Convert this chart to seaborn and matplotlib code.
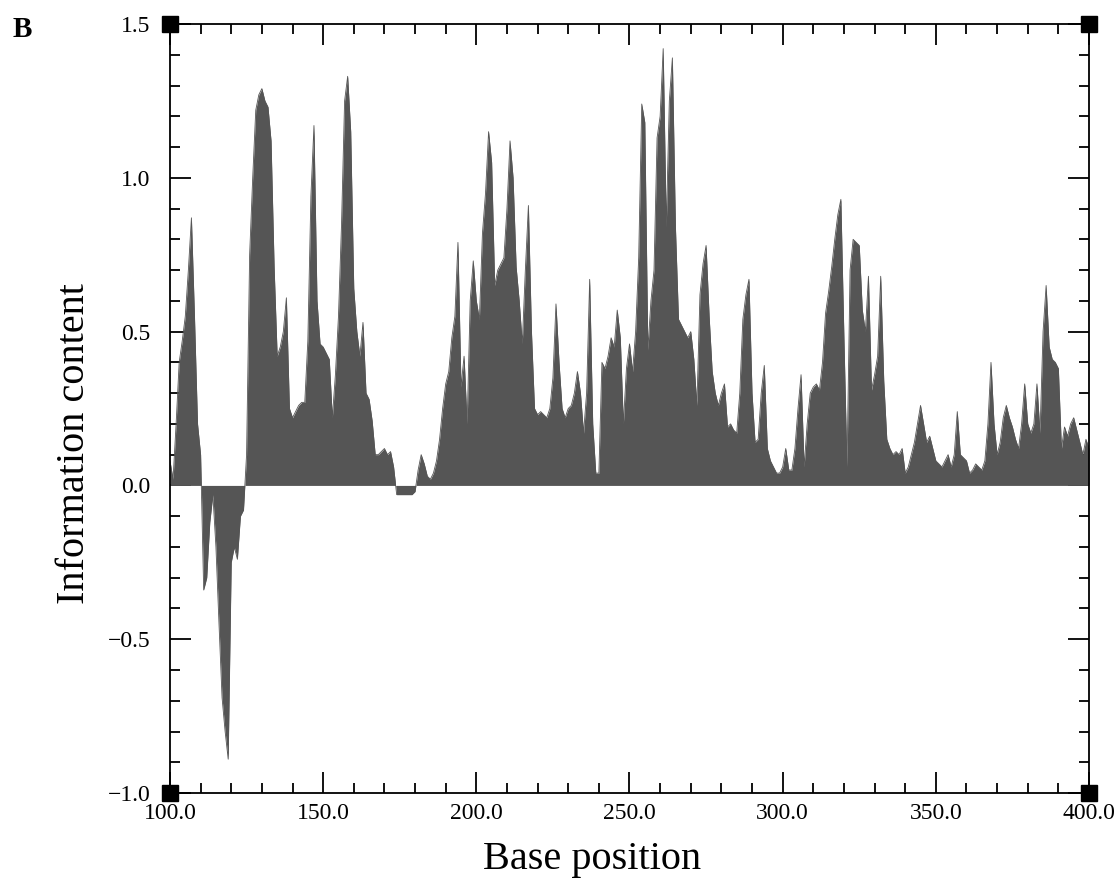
"""
Information content profile along base positions (panel B)
Output: out.png
"""

import matplotlib.pyplot as plt
import numpy as np
import pandas as pd
import seaborn as sns

# base positions 100..400, one value per base
positions = list(range(100, 401))

info_100_149 = [0.08, 0.02, 0.20, 0.40, 0.47, 0.55, 0.70, 0.87, 0.55, 0.20,
                0.10, -0.34, -0.30, -0.12, -0.03, -0.20, -0.45, -0.69, -0.80, -0.89,
                -0.25, -0.20, -0.24, -0.10, -0.08, 0.10, 0.75, 1.00, 1.22, 1.27,
                1.29, 1.25, 1.23, 1.12, 0.71, 0.42, 0.45, 0.50, 0.61, 0.25,
                0.22, 0.24, 0.26, 0.27, 0.27, 0.47, 0.94, 1.17, 0.60, 0.46]
info_150_199 = [0.45, 0.43, 0.41, 0.22, 0.36, 0.55, 0.85, 1.25, 1.33, 1.15,
                0.64, 0.50, 0.42, 0.53, 0.30, 0.28, 0.21, 0.10, 0.10, 0.11,
                0.12, 0.10, 0.11, 0.06, -0.03, -0.03, -0.03, -0.03, -0.03, -0.03,
                -0.02, 0.05, 0.10, 0.07, 0.03, 0.02, 0.04, 0.08, 0.15, 0.25,
                0.33, 0.37, 0.48, 0.55, 0.79, 0.32, 0.42, 0.20, 0.60, 0.73]
info_200_249 = [0.60, 0.54, 0.82, 0.95, 1.15, 1.05, 0.65, 0.70, 0.72, 0.74,
                0.90, 1.12, 1.00, 0.71, 0.60, 0.46, 0.70, 0.91, 0.50, 0.25,
                0.23, 0.24, 0.23, 0.22, 0.25, 0.35, 0.59, 0.40, 0.25, 0.22,
                0.25, 0.26, 0.30, 0.37, 0.30, 0.17, 0.30, 0.67, 0.20, 0.04,
                0.04, 0.40, 0.38, 0.42, 0.48, 0.45, 0.57, 0.48, 0.20, 0.38]
info_250_299 = [0.46, 0.37, 0.50, 0.74, 1.24, 1.18, 0.44, 0.60, 0.70, 1.13,
                1.20, 1.42, 0.84, 1.25, 1.39, 0.84, 0.54, 0.52, 0.50, 0.48,
                0.50, 0.41, 0.26, 0.62, 0.72, 0.78, 0.55, 0.37, 0.30, 0.26,
                0.30, 0.33, 0.19, 0.20, 0.18, 0.17, 0.30, 0.54, 0.62, 0.67,
                0.30, 0.14, 0.15, 0.30, 0.39, 0.12, 0.08, 0.06, 0.04, 0.04]
info_300_349 = [0.06, 0.12, 0.05, 0.05, 0.12, 0.25, 0.36, 0.06, 0.20, 0.30,
                0.32, 0.33, 0.31, 0.40, 0.56, 0.63, 0.71, 0.80, 0.88, 0.93,
                0.48, 0.06, 0.70, 0.80, 0.79, 0.78, 0.57, 0.50, 0.68, 0.31,
                0.36, 0.42, 0.68, 0.34, 0.15, 0.12, 0.10, 0.11, 0.10, 0.12,
                0.04, 0.06, 0.10, 0.14, 0.20, 0.26, 0.20, 0.14, 0.16, 0.12]
info_350_400 = [0.08, 0.07, 0.06, 0.08, 0.10, 0.06, 0.10, 0.24, 0.10, 0.09,
                0.08, 0.04, 0.05, 0.07, 0.06, 0.05, 0.08, 0.20, 0.40, 0.20,
                0.10, 0.14, 0.22, 0.26, 0.22, 0.19, 0.15, 0.12, 0.20, 0.33,
                0.20, 0.17, 0.20, 0.33, 0.17, 0.50, 0.65, 0.45, 0.41, 0.40,
                0.38, 0.12, 0.19, 0.16, 0.20, 0.22, 0.18, 0.14, 0.10, 0.15,
                0.12]

info = info_100_149 + info_150_199 + info_200_249 + info_250_299 + info_300_349 + info_350_400

x_ticks = [100, 150, 200, 250, 300, 350, 400]
y_ticks = [-1.0, -0.5, 0.0, 0.5, 1.0, 1.5]

FILL = '#555555'
SERIF = ['Liberation Serif', 'DejaVu Serif']

sns.set_style('ticks')
plt.rcParams['font.family'] = SERIF
plt.rcParams.update({
    'text.color': 'black',
    'axes.labelcolor': 'black',
    'xtick.color': 'black',
    'ytick.color': 'black',
})

df = pd.DataFrame({'pos': positions, 'info': info})

fig = plt.figure(figsize=(11.19, 8.83), dpi=100)
ax = fig.add_axes([0.1519, 0.1019, 0.8213, 0.8709])

ax.fill_between(df['pos'], 0, df['info'], color=FILL, linewidth=0)
sns.lineplot(data=df, x='pos', y='info', ax=ax, color=FILL, linewidth=0.6)

ax.set_xlim(100, 400)
ax.set_ylim(-1.0, 1.5)
ax.set_xticks(x_ticks)
ax.set_xticklabels([f'{v:.1f}' for v in x_ticks])
ax.set_yticks(y_ticks)
ax.set_yticklabels([f'{v:.1f}'.replace('-', '\u2212') for v in y_ticks])
ax.set_xticks(np.arange(100, 401, 10), minor=True)
ax.set_yticks(np.arange(-1.0, 1.51, 0.1), minor=True)

ax.tick_params(which='both', direction='in', top=True, right=True,
               width=1.3, color='black', labelsize=17, labelcolor='black')
ax.tick_params(which='major', length=15)
ax.tick_params(which='minor', length=7)
ax.tick_params(axis='y', pad=14)
ax.tick_params(axis='x', pad=7)

for sp in ax.spines.values():
    sp.set_linewidth(1.3)
    sp.set_color('black')

ax.set_xlabel('Base position', fontsize=29)
ax.set_ylabel('Information content', fontsize=29)
ax.xaxis.set_label_coords(0.459, -0.062)
ax.yaxis.set_label_coords(-0.084, 0.455)

# black squares at the frame corners
for cx, cy in [(0, 0), (0, 1), (1, 0), (1, 1)]:
    ax.plot(cx, cy, marker='s', markersize=12, color='black',
            transform=ax.transAxes, clip_on=False, zorder=10)

fig.text(0.011, 1 - 37 / 883, 'B', fontsize=21, fontweight='bold',
         family=SERIF, va='baseline')

fig.savefig('out.png', dpi=100)
plt.close(fig)
